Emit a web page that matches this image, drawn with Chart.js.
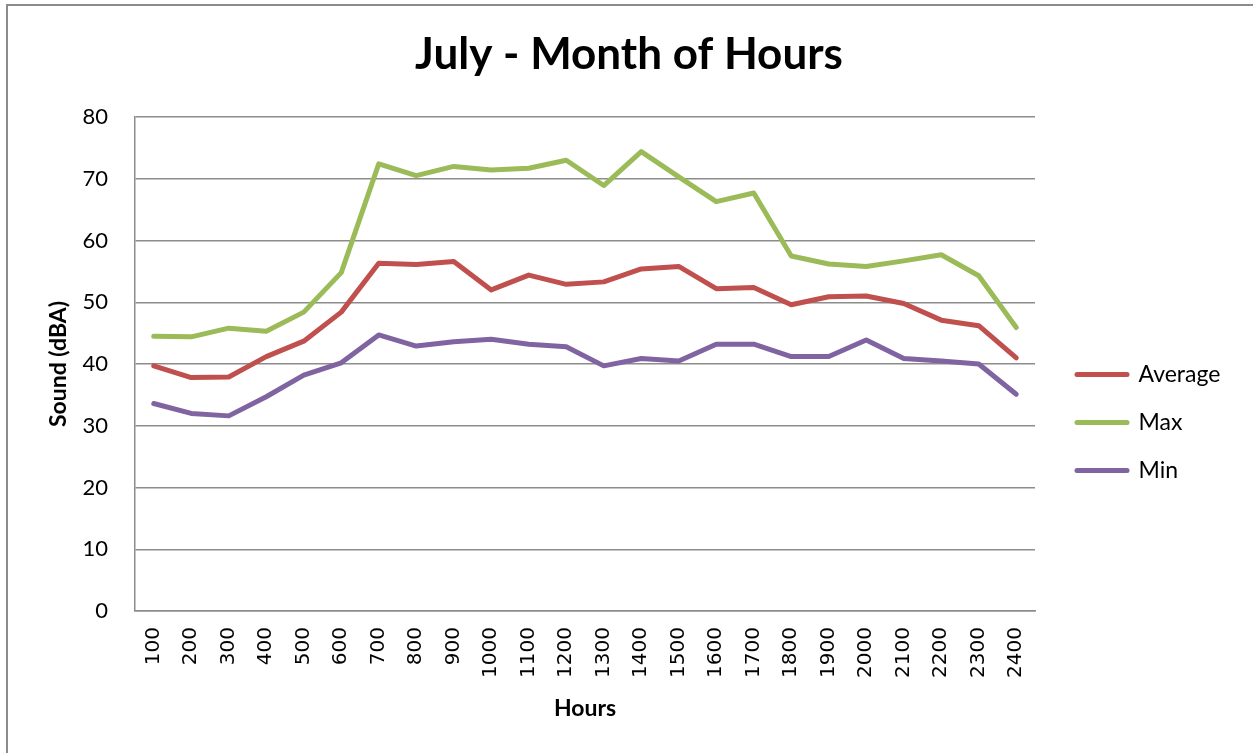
<!DOCTYPE html>
<html>
<head>
<meta charset="utf-8">
<script src="https://cdn.jsdelivr.net/npm/chart.js@4.4.0/dist/chart.umd.min.js"></script>
<style>
  html, body { margin: 0; padding: 0; background: #ffffff; overflow: hidden; }
  #wrap { position: relative; width: 1253px; height: 753px; }
  #frame { position: absolute; left: 6px; top: 4px; width: 1400px; height: 900px; border: 2px solid #8c8c8c; box-sizing: border-box; pointer-events: none; }
  canvas { position: absolute; left: 0; top: 0; }
</style>
</head>
<body>
<div id="wrap">
  <div id="frame"></div>
  <canvas id="c" width="1253" height="753"></canvas>
</div>
<script>
// ---- Data ----
const hours = ['100','200','300','400','500','600','700','800','900','1000','1100','1200',
               '1300','1400','1500','1600','1700','1800','1900','2000','2100','2200','2300','2400'];
const averageValues = [39.7, 37.8, 37.9, 41.2, 43.7, 48.4, 56.3, 56.1, 56.6, 52.0, 54.4, 52.9,
                       53.3, 55.4, 55.8, 52.2, 52.4, 49.6, 50.9, 51.0, 49.8, 47.1, 46.2, 41.0];
const maxValues = [44.5, 44.4, 45.8, 45.3, 48.4, 54.8, 72.4, 70.5, 72.0, 71.4, 71.7, 73.0,
                   68.9, 74.4, 70.3, 66.3, 67.7, 57.5, 56.2, 55.8, 56.7, 57.7, 54.3, 45.9];
const minValues = [33.6, 32.0, 31.6, 34.7, 38.2, 40.2, 44.7, 42.9, 43.6, 44.0, 43.2, 42.8,
                   39.7, 40.9, 40.5, 43.2, 43.2, 41.2, 41.2, 43.9, 40.9, 40.5, 40.0, 35.1];
const seriesNames = ['Average', 'Max', 'Min'];
const yTicks = [0, 10, 20, 30, 40, 50, 60, 70, 80];

const chartTitle = 'July - Month of Hours';
const xTitle = 'Hours';
const yTitle = 'Sound (dBA)';

// ---- Styling ----
const colors = ['#C0504D', '#9BBB59', '#8064A2'];
const gridColor = '#8c8c8c';
const legendFont = { family: 'Lato', size: 23 };
const legendPad = 25;
const legendBoxW = 50;

// Layout helpers so the plot area spans x 135..1035, y 117..611
const mctx = document.createElement('canvas').getContext('2d');
mctx.font = legendFont.size + 'px ' + legendFont.family;
const maxTextW = Math.max(...seriesNames.map(s => mctx.measureText(s).width));
const legendW = legendPad + legendBoxW + legendFont.size / 2 + maxTextW + 10;
const gapW = 17;
const plotLeft = 135;
const plotRight = 1035;
const padRight = Math.max(0, 1253 - plotRight - gapW - legendW);
const padLeft = padRight + 5;        // centres the title at x ~ 629
const yTitleCenterX = 59;

const makeDs = (label, data, color) => ({
  label, data,
  borderColor: color,
  backgroundColor: color,
  borderWidth: 5,
  pointRadius: 0,
  pointHoverRadius: 0,
  pointBorderWidth: 5,
  tension: 0,
  borderCapStyle: 'round',
  borderJoinStyle: 'round',
  yAxisID: 'y'
});

new Chart(document.getElementById('c'), {
  type: 'line',
  data: {
    labels: hours,
    datasets: [
      makeDs(seriesNames[0], averageValues, colors[0]),
      makeDs(seriesNames[1], maxValues, colors[1]),
      makeDs(seriesNames[2], minValues, colors[2])
    ]
  },
  options: {
    responsive: false,
    animation: false,
    layout: { padding: { left: padLeft, top: 0, right: padRight, bottom: 0 } },
    plugins: {
      title: {
        display: true,
        text: chartTitle,
        color: '#000000',
        font: { family: 'Lato', size: 44, weight: 'bold', lineHeight: 1.2 },
        padding: { top: 28, bottom: 36.2 }
      },
      legend: {
        display: true,
        position: 'right',
        align: 'center',
        title: { display: true, text: ' ', font: { size: 10, lineHeight: 1.2 }, padding: { top: 80, bottom: 0 } },
        labels: {
          usePointStyle: true,
          pointStyle: 'line',
          pointStyleWidth: legendBoxW,
          padding: legendPad,
          color: '#000000',
          font: legendFont,
          generateLabels(chart) {
            const items = Chart.defaults.plugins.legend.labels.generateLabels(chart);
            items.forEach(it => {
              const ds = chart.data.datasets[it.datasetIndex];
              it.lineWidth = 5;
              it.lineCap = 'round';
              it.strokeStyle = ds.borderColor;
              it.fillStyle = ds.borderColor;
            });
            return items;
          }
        }
      },
      tooltip: { enabled: false }
    },
    scales: {
      x: {
        type: 'category',
        offset: true,
        grid: { display: false, drawTicks: false },
        border: { display: true, color: gridColor, width: 1.5 },
        ticks: {
          color: '#000000',
          font: { family: 'DejaVu Sans', size: 20 },
          minRotation: 90,
          maxRotation: 90,
          autoSkip: false,
          padding: 16
        },
        title: {
          display: true,
          text: xTitle,
          color: '#000000',
          font: { family: 'Lato', size: 23, weight: 'bold', lineHeight: 1.2 },
          padding: { top: 0, bottom: 31 }
        },
        afterFit(scale) { scale.height = 753 - 611; }
      },
      y: {
        type: 'linear',
        position: 'left',
        min: 0,
        max: 80,
        afterBuildTicks(scale) { scale.ticks = yTicks.map(v => ({ value: v })); },
        grid: { color: gridColor, lineWidth: 1.5, drawTicks: false },
        border: { display: true, color: gridColor, width: 1.5 },
        ticks: {
          color: '#000000',
          font: { family: 'Lato', size: 22 },
          padding: 27
        },
        title: {
          display: true,
          text: yTitle,
          color: '#000000',
          font: { family: 'Lato', size: 23, weight: 'bold', lineHeight: 1.2 },
          padding: { top: Math.max(0, yTitleCenterX - 13.8 - padLeft), bottom: 0 }
        },
        afterFit(scale) { scale.width = plotLeft - padLeft; }
      },
      gap: {
        type: 'linear',
        position: 'right',
        display: true,
        grid: { display: false, drawTicks: false },
        border: { display: false },
        ticks: { display: false },
        afterFit(scale) { scale.width = gapW; }
      }
    }
  }
});
</script>
</body>
</html>
